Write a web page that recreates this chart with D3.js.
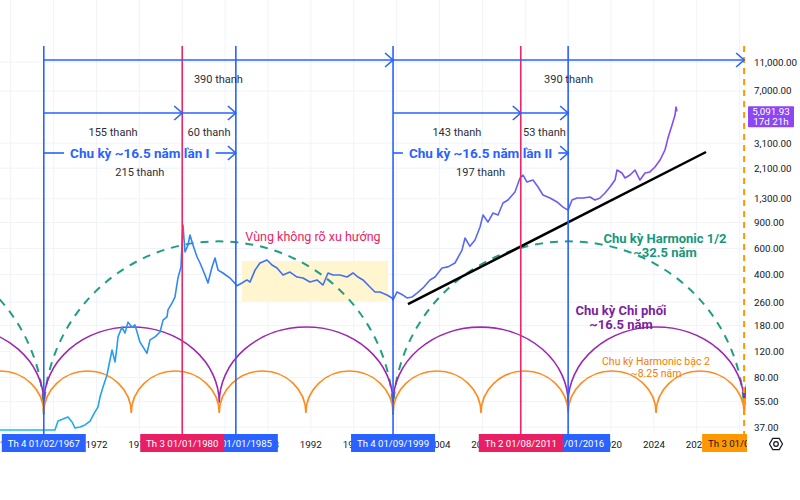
<!DOCTYPE html>
<html>
<head>
<meta charset="utf-8">
<script src="https://cdn.jsdelivr.net/npm/d3@7"></script>
<style>
    body { margin: 0; background: #fff; }
    svg { display: block; font-family: Roboto, "Noto Sans", sans-serif; }
</style>
</head>
<body>
<div id="chart"></div>
<script>
// price series (decimal year, index value)
const priceYears = [1963.0, 1968.13, 1968.41, 1968.88, 1969.34, 1969.72, 1970.0, 1970.46, 1970.93, 1971.4,
    1971.86, 1972.14, 1972.33, 1972.61, 1972.98, 1973.07, 1973.45, 1973.73, 1973.91, 1974.01,
    1974.38, 1974.66, 1974.94, 1975.31, 1975.59, 1976.06, 1976.71, 1976.99, 1977.46, 1977.93,
    1978.21, 1978.58, 1978.67, 1979.04, 1979.32, 1979.6, 1979.88, 1980.07, 1980.26, 1980.54,
    1980.72, 1981.0, 1981.38, 1981.66, 1982.12, 1982.4, 1982.78, 1983.06, 1983.34, 1983.8,
    1984.46, 1985.11, 1985.57, 1986.04, 1986.32, 1986.79, 1987.25, 1987.91, 1988.37, 1988.84,
    1989.4, 1990.05, 1990.71, 1991.26, 1991.92, 1992.57, 1993.13, 1993.6, 1994.06, 1994.72,
    1995.37, 1995.93, 1996.4, 1996.86, 1997.51, 1997.98, 1998.45, 1999.1, 1999.57, 1999.66,
    2000.03, 2000.59, 2000.97, 2001.43, 2001.9, 2002.46, 2003.11, 2003.58, 2004.23, 2004.79,
    2005.44, 2006.1, 2006.38, 2006.84, 2007.31, 2007.78, 2008.06, 2008.52, 2008.99, 2009.46,
    2009.92, 2010.39, 2011.04, 2011.51, 2011.79, 2012.16, 2012.72, 2013.19, 2013.65, 2014.31,
    2014.96, 2015.52, 2015.99, 2016.36, 2016.82, 2017.38, 2018.04, 2018.5, 2018.97, 2019.44,
    2019.9, 2020.37, 2020.56, 2021.02, 2021.3, 2021.77, 2022.24, 2022.7, 2023.17, 2023.63,
    2024.1, 2024.57, 2025.03, 2025.31, 2025.69, 2025.97, 2026.06, 2026.15];
const priceValues = [35.3, 35.3, 40.6, 41.9, 43.3, 40.0, 36.4, 37, 38.2, 40.6,
    46.8, 50.5, 59.1, 69.1, 83.3, 90, 123, 102, 129, 151,
    176, 160, 190, 176, 182, 139, 117, 144, 151, 163,
    196, 206, 230, 256, 281, 378, 449, 865, 567, 633,
    740, 633, 525, 478, 396, 350, 449, 517, 428, 409,
    378, 335, 350, 367, 355, 428, 478, 501, 463, 442,
    396, 415, 384, 378, 355, 367, 339, 409, 396, 396,
    384, 409, 384, 367, 329, 304, 304, 290, 277, 268,
    304, 290, 277, 281, 299, 324, 367, 384, 442, 450,
    478, 585, 706, 620, 684, 838, 1010, 906, 1043, 1010,
    1219, 1278, 1447, 1801, 1886, 1691, 1744, 1564, 1381, 1318,
    1239, 1144, 1091, 1278, 1318, 1318, 1338, 1278, 1318, 1424,
    1564, 1744, 2039, 1947, 1801, 1886, 2039, 1744, 1947, 1980,
    2136, 2383, 2786, 3357, 4111, 4807, 5446, 5092];

const yTicks = [37, 55, 80, 120, 180, 260, 400, 600, 900, 1300, 2100, 3100, 7000, 11000];
const lastPrice = "5,091.93";
const lastCountdown = "17d 21h";

// cycle boundaries
const blueDates = ["1967-02-01", "1985-01-01", "1999-09-01", "2016-01-01"];
const redDates = ["1980-01-01", "2011-08-01"];
const endDate = "2032-06-01";
const halfCycleDates = ["1934-07-01", "1967-02-01", "1999-09-01", "2032-06-01", "2065-01-01"];
const mainCycleDates = ["1950-10-01", "1967-02-01", "1983-06-15", "1999-09-01", "2016-01-01", "2032-06-01", "2048-10-01"];
const secondCycleDates = ["1958-12-15", "1967-02-01", "1975-04-01", "1983-06-15", "1991-07-15", "1999-09-01",
    "2007-11-15", "2016-01-01", "2024-03-15", "2032-06-01", "2040-08-01"];
// arc base / top prices
const halfArc = {base: 45, top: 670};
const mainArc = {base: 54, top: 176};
const secondArc = {base: 46, top: 88.6};

const trendStart = [2001.06, 252];
const trendEnd = [2028.86, 2701];
const flatZone = {from: 1985.57, to: 1999.19, low: 264, high: 493};

const dateLabels = [
    {date: "1967-02-01", text: "Th 4 01/02/1967", color: "#2962ff"},
    {date: "1985-01-01", text: "Th 3 01/01/1985", color: "#2962ff"},
    {date: "1980-01-01", text: "Th 3 01/01/1980", color: "#e91e63"},
    {date: "1999-09-01", text: "Th 4 01/09/1999", color: "#2962ff"},
    {date: "2016-01-01", text: "Th 6 01/01/2016", color: "#2962ff"},
    {date: "2011-08-01", text: "Th 2 01/08/2011", color: "#e91e63"},
    {date: "2032-06-01", text: "Th 3 01/06/2032", color: "#ff9800"}
];

const width = 800, height = 500;
const plotRight = 746, plotBottom = 433;
const boxHalf = 42;

const parse = d3.timeParse("%Y-%m-%d");
function yearToDate(y) {
    const yr = Math.floor(y);
    const a = new Date(yr, 0, 1), b = new Date(yr + 1, 0, 1);
    return new Date(+a + (y - yr) * (b - a));
}

const xScale = d3.scaleTime()
    .domain([new Date(1963, 0, 1), new Date(2033, 0, 1)])
    .range([0, 750.4]);

const yScale = d3.scaleLog()
    .domain([37, 11000])
    .range([427, 62]);

const svg = d3.select("#chart").append("svg")
    .attr("width", width)
    .attr("height", height);

const defs = svg.append("defs");
defs.append("clipPath").attr("id", "plot")
    .append("rect").attr("x", 0).attr("y", 0).attr("width", plotRight).attr("height", plotBottom);
defs.append("clipPath").attr("id", "endclip")
    .append("rect").attr("x", 0).attr("y", 0).attr("width", 747).attr("height", height);

const grad = defs.append("linearGradient")
    .attr("id", "priceGrad")
    .attr("gradientUnits", "userSpaceOnUse")
    .attr("x1", 0).attr("x2", 690).attr("y1", 0).attr("y2", 0);
[[0, "#17c3e0"], [0.16, "#259ff2"], [0.38, "#3a72f0"], [0.7, "#5b69f0"], [1, "#8a48f0"]]
    .forEach(s => grad.append("stop").attr("offset", s[0]).attr("stop-color", s[1]));

// grid
const grid = svg.append("g").attr("clip-path", "url(#plot)");
grid.selectAll(".hg").data(yTicks).join("line")
    .attr("x1", 0).attr("x2", plotRight)
    .attr("y1", d => yScale(d)).attr("y2", d => yScale(d))
    .attr("stroke", "#f0f3fa").attr("stroke-width", 1);
const yearTicks = d3.range(1964, 2033, 4).map(y => new Date(y, 0, 1));
grid.selectAll(".vg").data(yearTicks).join("line")
    .attr("x1", d => xScale(d)).attr("x2", d => xScale(d))
    .attr("y1", 0).attr("y2", plotBottom)
    .attr("stroke", "#f0f3fa").attr("stroke-width", 1);

const plot = svg.append("g").attr("clip-path", "url(#plot)");

// flat zone
plot.append("rect")
    .attr("x", xScale(yearToDate(flatZone.from)))
    .attr("y", yScale(flatZone.high))
    .attr("width", xScale(yearToDate(flatZone.to)) - xScale(yearToDate(flatZone.from)))
    .attr("height", yScale(flatZone.low) - yScale(flatZone.high))
    .attr("fill", "#fff6cf");

// cycle arcs
function arcs(dates, level) {
    const yb = yScale(level.base), ry = yb - yScale(level.top);
    let p = "";
    for (let i = 0; i < dates.length - 1; i++) {
        const x0 = xScale(parse(dates[i])), x1 = xScale(parse(dates[i + 1]));
        p += `M${x0},${yb}A${(x1 - x0) / 2},${ry} 0 0 1 ${x1},${yb}`;
    }
    return p;
}
plot.append("path").attr("d", arcs(halfCycleDates, halfArc))
    .attr("fill", "none").attr("stroke", "#1f9e84").attr("stroke-width", 2)
    .attr("stroke-dasharray", "8,7");
plot.append("path").attr("d", arcs(mainCycleDates, mainArc))
    .attr("fill", "none").attr("stroke", "#9c27b0").attr("stroke-width", 1.6);
plot.append("path").attr("d", arcs(secondCycleDates, secondArc))
    .attr("fill", "none").attr("stroke", "#ff8a1e").attr("stroke-width", 1.6);

// price
const priceData = priceYears.map((y, i) => ({date: yearToDate(y), value: priceValues[i]}));
plot.append("path")
    .datum(priceData)
    .attr("d", d3.line().x(d => xScale(d.date)).y(d => yScale(d.value)))
    .attr("fill", "none").attr("stroke", "url(#priceGrad)").attr("stroke-width", 1.6)
    .attr("stroke-linejoin", "round");

// trend line
plot.append("line")
    .attr("x1", xScale(yearToDate(trendStart[0]))).attr("y1", yScale(trendStart[1]))
    .attr("x2", xScale(yearToDate(trendEnd[0]))).attr("y2", yScale(trendEnd[1]))
    .attr("stroke", "#000").attr("stroke-width", 2.5);

// vertical markers
svg.selectAll(".bl").data(blueDates).join("line")
    .attr("x1", d => xScale(parse(d))).attr("x2", d => xScale(parse(d)))
    .attr("y1", 46).attr("y2", 434)
    .attr("stroke", "#2962ff").attr("stroke-width", 1.6);
svg.selectAll(".rl").data(redDates).join("line")
    .attr("x1", d => xScale(parse(d))).attr("x2", d => xScale(parse(d)))
    .attr("y1", 46).attr("y2", 434)
    .attr("stroke", "#ee2764").attr("stroke-width", 1.6);
svg.append("line")
    .attr("x1", xScale(parse(endDate))).attr("x2", xScale(parse(endDate)))
    .attr("y1", 46).attr("y2", 452)
    .attr("stroke", "#ff9800").attr("stroke-width", 2).attr("stroke-dasharray", "6,5");

// measuring arrows
const ann = svg.append("g");
function label(d1, d2, y, text, opts = {}) {
    const m = (xScale(parse(d1)) + xScale(parse(d2))) / 2;
    return ann.append("text").attr("x", m).attr("y", y)
        .attr("text-anchor", "middle").attr("dominant-baseline", "central")
        .attr("font-size", opts.size || 11)
        .attr("font-weight", opts.weight || "normal")
        .attr("fill", opts.color || "#2a2e39")
        .text(text);
}
function arrow(d1, d2, y, textNode) {
    const x1 = xScale(parse(d1)), x2 = xScale(parse(d2));
    const segs = [];
    if (textNode) {
        const m = (x1 + x2) / 2, gap = textNode.node().getComputedTextLength() / 2 + 6;
        segs.push([x1, m - gap], [m + gap, x2]);
    } else {
        segs.push([x1, x2]);
    }
    segs.forEach(s => ann.append("line").attr("x1", s[0]).attr("x2", s[1]).attr("y1", y).attr("y2", y)
        .attr("stroke", "#2962ff").attr("stroke-width", 1.6));
    ann.append("path").attr("d", `M${x2 - 8},${y - 7}L${x2},${y}L${x2 - 8},${y + 7}`)
        .attr("fill", "none").attr("stroke", "#2962ff").attr("stroke-width", 1.6);
}

arrow("1967-02-01", "1999-09-01", 60);
arrow("1999-09-01", endDate, 60);
label("1967-02-01", "1999-09-01", 79, "390 thanh");
label("1999-09-01", endDate, 79, "390 thanh");

arrow("1967-02-01", "1980-01-01", 113);
arrow("1980-01-01", "1985-01-01", 113);
arrow("1999-09-01", "2011-08-01", 113);
arrow("2011-08-01", "2016-01-01", 113);
label("1967-02-01", "1980-01-01", 132, "155 thanh");
label("1980-01-01", "1985-01-01", 132, "60 thanh");
label("1999-09-01", "2011-08-01", 132, "143 thanh");
label("2011-08-01", "2016-01-01", 132, "53 thanh");

const c1 = label("1967-02-01", "1985-01-01", 153, "Chu kỳ ~16.5 năm lần I", {size: 13.5, weight: "bold", color: "#2962ff"});
const c2 = label("1999-09-01", "2016-01-01", 153, "Chu kỳ ~16.5 năm lần II", {size: 13.5, weight: "bold", color: "#2962ff"});
arrow("1967-02-01", "1985-01-01", 153, c1);
arrow("1999-09-01", "2016-01-01", 153, c2);
label("1967-02-01", "1985-01-01", 172, "215 thanh");
label("1999-09-01", "2016-01-01", 172, "197 thanh");

// zone and cycle names
function note(x, y, lines, color, size, weight) {
    const t = ann.append("text").attr("text-anchor", "middle")
        .attr("font-size", size).attr("font-weight", weight).attr("fill", color);
    lines.forEach((s, i) => t.append("tspan").attr("x", x).attr("y", y + i * (size + 1)).text(s));
}
note(313, 241, ["Vùng không rõ xu hướng"], "#e91e63", 12.5, "normal");
note(665, 243, ["Chu kỳ Harmonic 1/2", "~32.5 năm"], "#16977d", 13, "bold");
note(621, 315, ["Chu kỳ Chi phối", "~16.5 năm"], "#7b1fa2", 13, "bold");
note(656, 365, ["Chu kỳ Harmonic bậc 2", "~8.25 năm"], "#f57c00", 10.5, "normal");

// y axis labels
svg.selectAll(".yl").data(yTicks).join("text")
    .attr("x", 754).attr("y", d => yScale(d))
    .attr("dominant-baseline", "central")
    .attr("font-size", 9.8).attr("fill", "#131722")
    .text(d => d3.format(",.2f")(d));

const py = yScale(priceValues[priceValues.length - 1]);
svg.append("rect").attr("x", 748).attr("y", py - 5).attr("width", 46).attr("height", 21)
    .attr("fill", "#8c46f2").attr("rx", 1);
svg.append("text").attr("x", 771).attr("y", py + 0.5).attr("text-anchor", "middle")
    .attr("dominant-baseline", "central").attr("font-size", 9.8).attr("fill", "#fff")
    .text(lastPrice);
svg.append("text").attr("x", 771).attr("y", py + 10.5).attr("text-anchor", "middle")
    .attr("dominant-baseline", "central").attr("font-size", 9.8).attr("fill", "#fff")
    .text(lastCountdown);

// x axis: skip year labels that sit entirely under a date box
const boxCenters = dateLabels.map(l => xScale(parse(l.date)));
const visibleYears = yearTicks.filter(d => {
    const x = xScale(d);
    return !boxCenters.some(c => x - 11 >= c - boxHalf && x + 11 <= c + boxHalf);
});
svg.selectAll(".xl").data(visibleYears).join("text")
    .attr("x", d => xScale(d)).attr("y", 444)
    .attr("text-anchor", "middle").attr("dominant-baseline", "central")
    .attr("font-size", 9.8).attr("fill", "#131722")
    .text(d => d.getFullYear());

const xl = svg.append("g");
dateLabels.forEach(l => {
    const x = xScale(parse(l.date));
    const g = xl.append("g");
    if (l.color === "#ff9800") g.attr("clip-path", "url(#endclip)");
    g.append("rect").attr("x", x - boxHalf).attr("y", 434).attr("width", boxHalf * 2).attr("height", 18)
        .attr("fill", l.color);
    g.append("text").attr("x", x).attr("y", 443.5)
        .attr("text-anchor", "middle").attr("dominant-baseline", "central")
        .attr("font-size", 9.6).attr("fill", l.color === "#ff9800" ? "#131722" : "#fff")
        .text(l.text);
});

// settings icon
const hex = d3.range(6).map(i => [776 + 6.5 * Math.cos(Math.PI / 3 * i), 444 + 6.5 * Math.sin(Math.PI / 3 * i)]);
svg.append("path").attr("d", "M" + hex.join("L") + "Z")
    .attr("fill", "none").attr("stroke", "#131722").attr("stroke-width", 1.2);
svg.append("circle").attr("cx", 776).attr("cy", 444).attr("r", 2.3)
    .attr("fill", "none").attr("stroke", "#131722").attr("stroke-width", 1.2);
</script>
</body>
</html>
